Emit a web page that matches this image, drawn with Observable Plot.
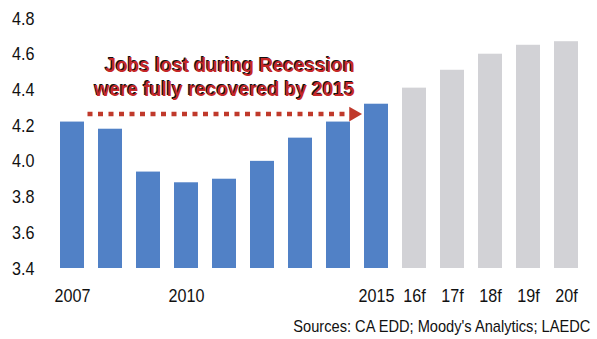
<!DOCTYPE html>
<html>
<head>
<meta charset="utf-8">
<script src="https://cdn.jsdelivr.net/npm/d3@7"></script>
<script src="https://cdn.jsdelivr.net/npm/@observablehq/plot@0.6"></script>
<style>
  html, body { margin: 0; padding: 0; background: #fff; }
  #chart { width: 597px; }
  #caption { width: 590px; text-align: right; font-family: "Liberation Sans", Arial, sans-serif; font-size: 17px; line-height: 20px; margin-top: 7px; color: #111; }
  #caption span { display: inline-block; transform: scaleX(0.86); transform-origin: right center; white-space: nowrap; }
</style>
</head>
<body>
<div id="chart"></div>
<script>
const categories = ["2007","2008","2009","2010","2011","2012","2013","2014","2015","16f","17f","18f","19f","20f"];
const values = [4.22, 4.18, 3.94, 3.88, 3.90, 4.00, 4.13, 4.22, 4.32, 4.41, 4.51, 4.60, 4.65, 4.67];
const kinds = ["actual","actual","actual","actual","actual","actual","actual","actual","actual","forecast","forecast","forecast","forecast","forecast"];
const xTickLabels = ["2007","2010","2015","16f","17f","18f","19f","20f"];
const yTicks = [3.4, 3.6, 3.8, 4.0, 4.2, 4.4, 4.6, 4.8];
const annotationLines = ["Jobs lost during Recession", "were fully recovered by 2015"];
const annotationY = [4.537, 4.40];
const arrowFrom = "2007", arrowTo = "2015", arrowY = 4.265;
const caption = "Sources: CA EDD; Moody's Analytics; LAEDC";

const data = categories.map((c, i) => ({cat: c, value: values[i], kind: kinds[i]}));
const notes = annotationLines.map((t, i) => ({text: t, y: annotationY[i]}));

const chart = Plot.plot({
  width: 597,
  height: 310,
  marginTop: 18,
  marginBottom: 42,
  marginLeft: 44,
  marginRight: 3,
  style: {fontFamily: '"Liberation Sans", Arial, sans-serif', fontSize: "19px", color: "#111", background: "#fff"},
  x: {domain: categories, padding: 0.37, label: null, tickSize: 0, tickPadding: 20, ticks: xTickLabels},
  y: {domain: [3.4, 4.8], ticks: yTicks, tickFormat: d3.format(".1f"), label: null, tickSize: 0, tickPadding: 10},
  color: {domain: ["actual","forecast"], range: ["#5181c6", "#d2d2d6"]},
  marks: [
    Plot.barY(data, {x: "cat", y1: 3.4, y2: "value", fill: "kind"}),
    Plot.arrow([{}], {x1: () => arrowFrom, x2: () => arrowTo, y1: () => arrowY, y2: () => arrowY, stroke: "#c0392b", strokeWidth: 4.5, strokeDasharray: "5,5.5", headLength: 0, insetStart: 15, insetEnd: 24, strokeLinecap: "butt"}),
    Plot.dot([{}], {x: () => arrowTo, y: () => arrowY, symbol: "triangle", rotate: 90, r: 5.5, fill: "#c0392b", stroke: "none", dx: -23}),
    Plot.text(notes, {x: () => "2014", y: "y", text: "text", textAnchor: "end", dx: 15, fill: "#111", fontWeight: "bold", fontSize: 20, dy: -1, className: "note"}),
    Plot.text(notes, {x: () => "2014", y: "y", text: "text", textAnchor: "end", dx: 16.2, fill: "#c62828", fontWeight: "bold", fontSize: 20, className: "note"})
  ]
});
document.getElementById("chart").appendChild(chart);

// condense text like the narrow typeface in the reference
chart.querySelectorAll("text").forEach(t => {
  const isNote = t.closest(".note") !== null;
  const k = isNote ? 0.955 : 0.85;
  const w = t.getComputedTextLength();
  if (w > 0) {
    t.setAttribute("textLength", (w * k).toFixed(2));
    t.setAttribute("lengthAdjust", "spacingAndGlyphs");
  }
});

const cap = document.createElement("div");
cap.id = "caption";
const span = document.createElement("span");
span.textContent = caption;
cap.appendChild(span);
document.body.appendChild(cap);
</script>
</body>
</html>
